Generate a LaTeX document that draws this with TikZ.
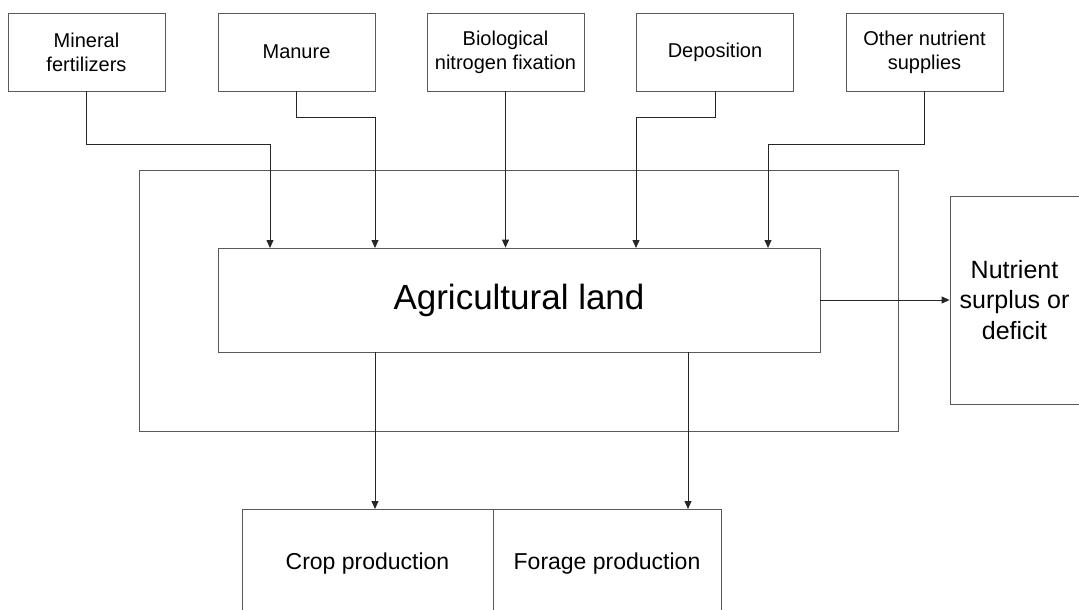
\documentclass[tikz,border=0pt]{standalone}
\usepackage{fontspec}
\setmainfont{Liberation Sans}
\usetikzlibrary{arrows.meta}
\begin{document}
\begin{tikzpicture}[x=1pt,y=-1pt,
  box/.style={draw=black!65,line width=0.8pt,rectangle,inner sep=0pt,align=center,text=black},
  topbox/.style={box,minimum width=157pt,minimum height=78pt,font=\fontsize{20}{24}\selectfont},
  arr/.style={draw=black!85,line width=0.8pt,-{Triangle[length=8pt,width=7pt]}}]
\useasboundingbox (0,0) rectangle (1079,610);
% outer frame
\node[box,minimum width=759pt,minimum height=261pt] (outer) at (518.5,300.5) {};
% top sources
\node[topbox] (mf)  at (86.5,52)  {Mineral\\fertilizers};
\node[topbox] (man) at (296.5,52) {Manure};
\node[topbox] (bio) at (505.5,52) {Biological\\nitrogen fixation};
\node[topbox] (dep) at (715,52)   {Deposition};
\node[topbox] (oth) at (924.5,52) {Other nutrient\\supplies};
% agricultural land
\node[box,minimum width=602pt,minimum height=104pt,font=\fontsize{35}{40}\selectfont] (agri) at (519,300) {Agricultural land};
% nutrient surplus
\node[box,minimum width=129pt,minimum height=208pt,font=\fontsize{25}{30.5}\selectfont] (nut) at (1014.5,300) {Nutrient\\surplus or\\deficit};
% bottom
\node[box,minimum width=251pt,minimum height=110pt,font=\fontsize{23}{27}\selectfont] (crop) at (367.5,564) {Crop production};
\node[box,minimum width=228pt,minimum height=110pt,font=\fontsize{23}{27}\selectfont] (forage) at (607,564) {Forage production};
% arrow targets
\coordinate (t1) at (270,248);
\coordinate (t2) at (375,248);
\coordinate (t4) at (636,248);
\coordinate (t5) at (768,248);
\coordinate (b1) at (375,509);
\coordinate (b2) at (688,509);
% connectors
\draw[arr] (mf.south) -- ++(0,53) -| (t1);
\draw[arr] (man.south) -- ++(0,26) -| (t2);
\draw[arr] (bio.south) -- (bio.south |- agri.north);
\draw[arr] (dep.south) -- ++(0,26) -| (t4);
\draw[arr] (oth.south) -- ++(0,53) -| (t5);
\draw[arr] (agri.east) -- (nut.west);
\draw[arr] (agri.south -| b1) -- (b1);
\draw[arr] (agri.south -| b2) -- (b2);
\end{tikzpicture}
\end{document}
